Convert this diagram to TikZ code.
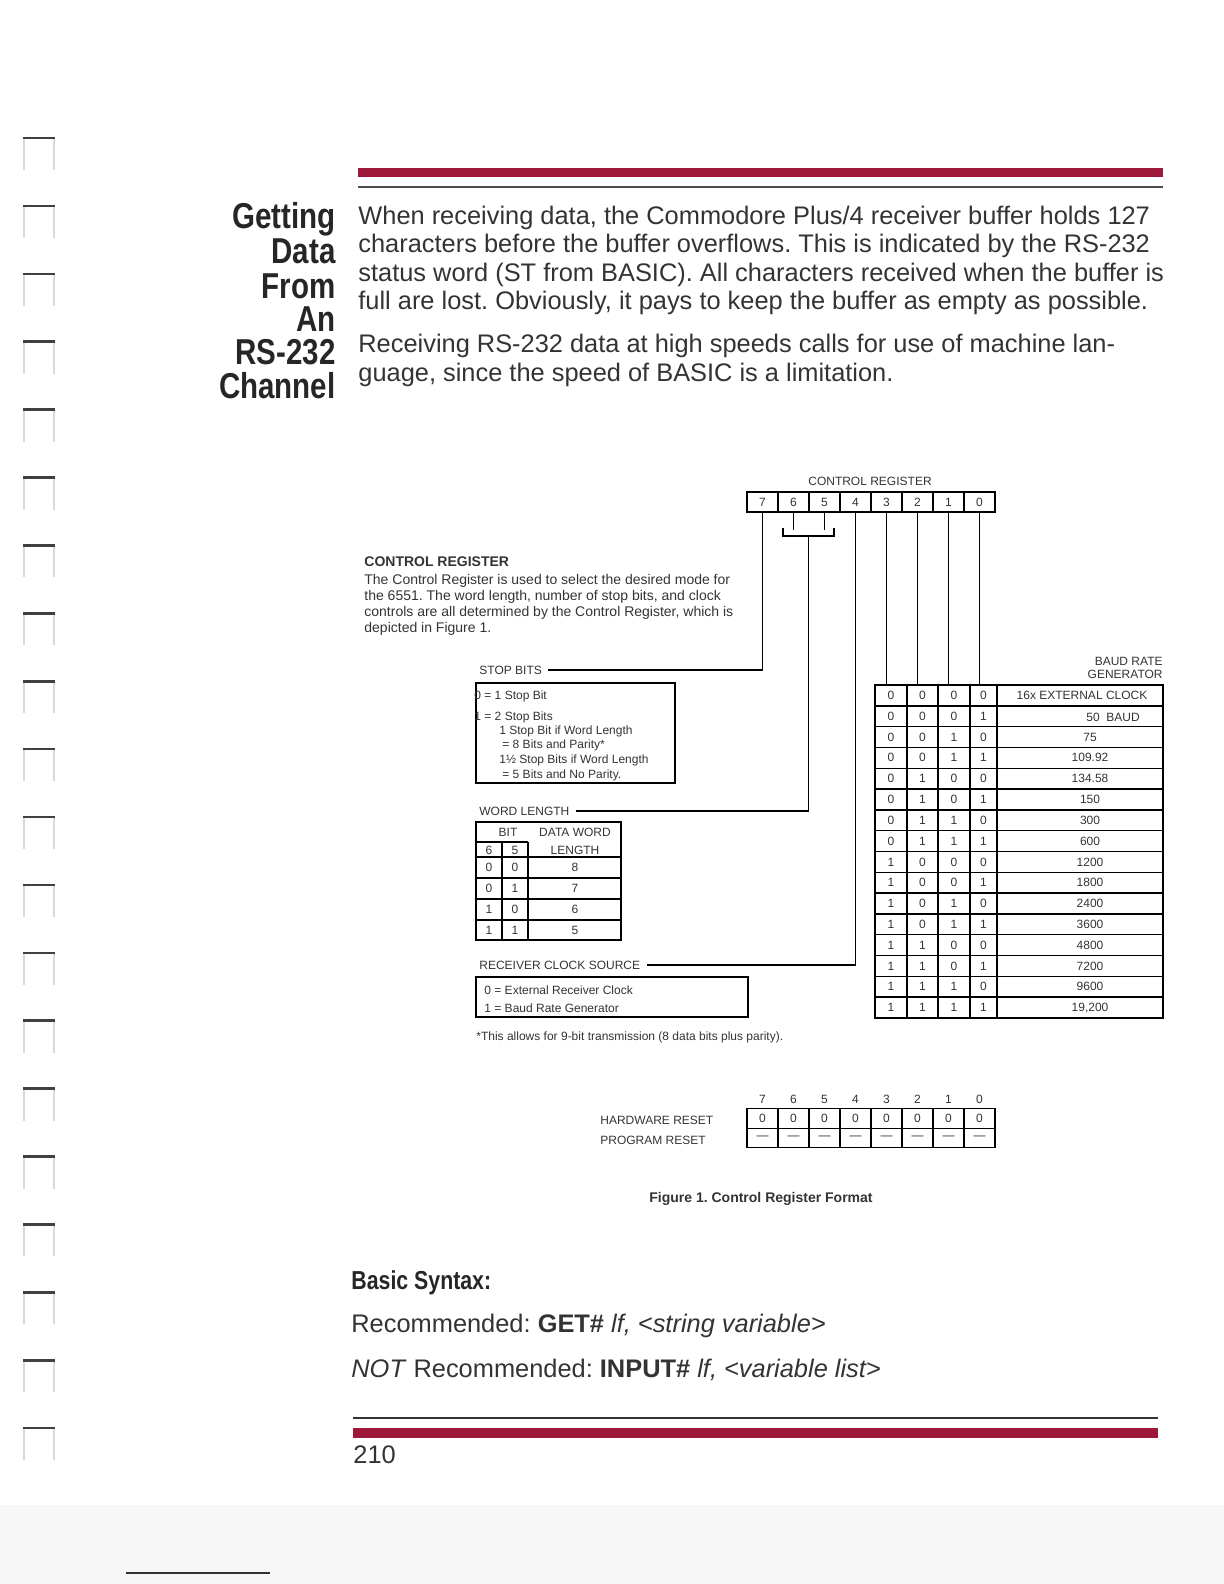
\documentclass[tikz,border=0pt]{standalone}
\usepackage{fontspec}
\setmainfont{Liberation Sans}
\newfontfamily\condfont{Liberation Sans}[FakeStretch=0.82]
\definecolor{barred}{RGB}{158,24,58}
\frenchspacing
\begin{document}
\begin{tikzpicture}[x=0.5pt,y=-0.5pt,
  ink/.style={text=black!80},
  head/.style={text=black!85,inner sep=0pt,anchor=base east,font=\condfont\bfseries\fontsize{18}{17}\selectfont},
  body/.style={ink,inner sep=0pt,anchor=base west,font=\fontsize{12.7}{14}\selectfont},
  note/.style={ink,inner sep=0pt,anchor=mid west,font=\fontsize{7}{8}\selectfont},
  tiny/.style={ink,inner sep=0pt,font=\fontsize{6}{7}\selectfont},
  lbl/.style={tiny,anchor=mid west,inner xsep=3pt},
  cell/.style={tiny,draw=black,line width=0.7pt,minimum width=15.5pt,minimum height=10pt},
  rule/.style={line width=0.7pt}]
\useasboundingbox (0,0) rectangle (1224,1584);
\fill[black!3] (0,1505) rectangle (1224,1584);
\draw[black!80,line width=0.6pt] (126,1573) -- (270,1573);

\foreach \i in {0,...,19}{
  \draw[black!15,line width=0.8pt] (24,{138+67.9*\i}) -- ++(0,32) (54,{138+67.9*\i}) -- ++(0,32);
  \draw[black!75,line width=1.3pt] (23,{138+67.9*\i}) -- (55,{138+67.9*\i});
}

\fill[barred] (358,168) rectangle (1163,177);
\draw[black!70,line width=1pt] (358,187) -- (1163,187);
\draw[black!80,line width=1pt] (353,1418) -- (1158,1418);
\fill[barred] (353,1428) rectangle (1158,1438);

\node[head] (ttl1) at (336,228) {Getting};
\node[head] (ttl2) at (336,263) {Data};
\node[head] (ttl3) at (336,298) {From};
\node[head] (ttl4) at (336,331) {An};
\node[head] (ttl5) at (336,364) {RS-232};
\node[head] (ttl6) at (336,398) {Channel};

\node[body] (par1) at (358,224) {When receiving data, the Commodore Plus/4 receiver buffer holds 127};
\node[body] (par2) at (358,252) {characters before the buffer overflows. This is indicated by the RS-232};
\node[body] (par3) at (358,281) {status word (ST from BASIC). All characters received when the buffer is};
\node[body] (par4) at (358,309) {full are lost. Obviously, it pays to keep the buffer as empty as possible.};
\node[body] (par5) at (358,352) {Receiving RS-232 data at high speeds calls for use of machine lan-};
\node[body] (par6) at (358,381) {guage, since the speed of BASIC is a limitation.};

\node[tiny] (crtitle) at (870,481) {CONTROL REGISTER};
\foreach \b [count=\i from 0] in {7,6,...,0}
  \node[cell] (r\b) at ({762.5+31*\i},502) {\b};

\node[note,font=\bfseries\fontsize{7}{8}\selectfont] (crhead) at (364,561) {CONTROL REGISTER};
\node[note] (crtxt1) at (364,579) {The Control Register is used to select the desired mode for};
\node[note] (crtxt2) at (364,595) {the 6551. The word length, number of stop bits, and clock};
\node[note] (crtxt3) at (364,611) {controls are all determined by the Control Register, which is};
\node[note] (crtxt4) at (364,627) {depicted in Figure 1.};

\node[lbl] (stoplbl) at (473,669) {STOP BITS};
\draw[rule] (r7.south) |- (stoplbl.east);
\draw[rule] (476,683) rectangle (675,783);
\node[tiny,anchor=mid west] (sb1) at (474,694) {0 = 1 Stop Bit};
\node[tiny,anchor=mid west] (sb2) at (474,715) {1 = 2 Stop Bits};
\node[tiny,anchor=mid west] (sb3) at (499,729) {1 Stop Bit if Word Length};
\node[tiny,anchor=mid west] (sb4) at (502,743) {= 8 Bits and Parity*};
\node[tiny,anchor=mid west] (sb5) at (499,758) {1½ Stop Bits if Word Length};
\node[tiny,anchor=mid west] (sb6) at (502,773) {= 5 Bits and No Parity.};

\draw[rule] (r6.south) -- ++(0,17);
\draw[rule] (r5.south) -- ++(0,17);
\draw[rule] (783,528) -- (783,536) -- (834,536) -- (834,528);
\coordinate (brk) at (808.5,536);
\node[lbl] (wordlbl) at (473,810) {WORD LENGTH};
\draw[rule] (brk) |- (wordlbl.east);
\draw[rule] (476,822) rectangle (621,940);
\draw[rule] (476,842) -- (528,842);
\draw[rule] (502,842) -- (502,940);
\draw[rule] (528,842) -- (528,940);
\foreach \yy in {857,878,899,920}
  \draw[rule] (476,\yy) -- (621,\yy);
\node[tiny] (wbit) at (508,832) {BIT};
\node[tiny] (wdata) at (575,832) {DATA WORD};
\node[tiny] (wlen) at (575,850) {LENGTH};
\node[tiny] (wb6) at (489,850) {6};
\node[tiny] (wb5) at (515,850) {5};
\foreach \p/\q/\n [count=\k from 0] in {0/0/8,0/1/7,1/0/6,1/1/5}{
  \node[tiny] (wp\k) at (489,{867.5+21*\k}) {\p};
  \node[tiny] (wq\k) at (515,{867.5+21*\k}) {\q};
  \node[tiny] (wn\k) at (575,{867.5+21*\k}) {\n};
}

\node[lbl] (clklbl) at (473,964) {RECEIVER CLOCK SOURCE};
\draw[rule] (r4.south) |- (clklbl.east);
\draw[rule] (476,977) rectangle (748,1017);
\node[tiny,anchor=mid west] (ck0) at (484,989) {0 = External Receiver Clock};
\node[tiny,anchor=mid west] (ck1) at (484,1007) {1 = Baud Rate Generator};
\node[tiny,anchor=mid west] (fnote) at (476,1035) {*This allows for 9-bit transmission (8 data bits plus parity).};

\node[tiny,anchor=mid east] (bdr1) at (1163,660) {BAUD RATE};
\node[tiny,anchor=mid east] (bdr2) at (1163,673) {GENERATOR};
\coordinate (baudtop) at (875,685);
\foreach \b in {3,2,1,0}
  \draw[rule] (r\b.south) -- (r\b.south |- baudtop);
\draw[rule] (baudtop) rectangle (1163,1018);
\foreach \k in {1,...,15}
  \draw[rule] (875,{685+20.8125*\k}) -- (1163,{685+20.8125*\k});
\foreach \xx in {907,938,970,997}
  \draw[line width=0.9pt] (\xx,685) -- (\xx,1018);
\foreach \k in {0,...,15}{
  \pgfmathtruncatemacro\da{div(\k,8)}
  \pgfmathtruncatemacro\db{mod(div(\k,4),2)}
  \pgfmathtruncatemacro\dc{mod(div(\k,2),2)}
  \pgfmathtruncatemacro\dd{mod(\k,2)}
  \node[tiny] (ba\k) at (891,{695.4+20.8125*\k}) {\da};
  \node[tiny] (bb\k) at (922.5,{695.4+20.8125*\k}) {\db};
  \node[tiny] (bc\k) at (954,{695.4+20.8125*\k}) {\dc};
  \node[tiny] (bd\k) at (983.5,{695.4+20.8125*\k}) {\dd};
}
\node[tiny] (rate0) at (1082,695.4) {16x EXTERNAL CLOCK};
\node[tiny,anchor=mid west] (rate1) at (1086,716.2) {50\ \ BAUD};
\foreach \rt [count=\k from 2] in {75,109.92,134.58,150,300,600,1200,1800,2400,3600,4800,7200,9600,19{,}200}
  \node[tiny] (rate\k) at (1090,{695.4+20.8125*\k}) {\rt};

\node[tiny,anchor=mid west] (hwlbl) at (600,1119) {HARDWARE RESET};
\node[tiny,anchor=mid west] (pglbl) at (600,1139) {PROGRAM RESET};
\foreach \b [count=\i from 0] in {7,6,...,0}{
  \node[tiny] (rh\b) at ({762.5+31*\i},1099) {\b};
  \node[cell,minimum height=9.75pt] (hw\b) at ({762.5+31*\i},1118.5) {0};
  \node[cell,minimum height=9.75pt] (pr\b) at ({762.5+31*\i},1138) {\textemdash};
}

\node[ink,inner sep=0pt,font=\bfseries\fontsize{7}{8}\selectfont] (cap) at (761,1199) {Figure 1. Control Register Format};

\node[text=black!85,inner sep=0pt,anchor=base west,font=\condfont\bfseries\fontsize{13}{15}\selectfont] (syn) at (351,1289) {Basic Syntax:};
\node[body] (rec) at (351,1332) {Recommended: \textbf{GET\#} \textit{lf, <string variable>}};
\node[body] (notrec) at (351,1377) {\textit{NOT} Recommended: \textbf{INPUT\#} \textit{lf, <variable list>}};
\node[body] (pgno) at (353,1463) {210};
\end{tikzpicture}
\end{document}
